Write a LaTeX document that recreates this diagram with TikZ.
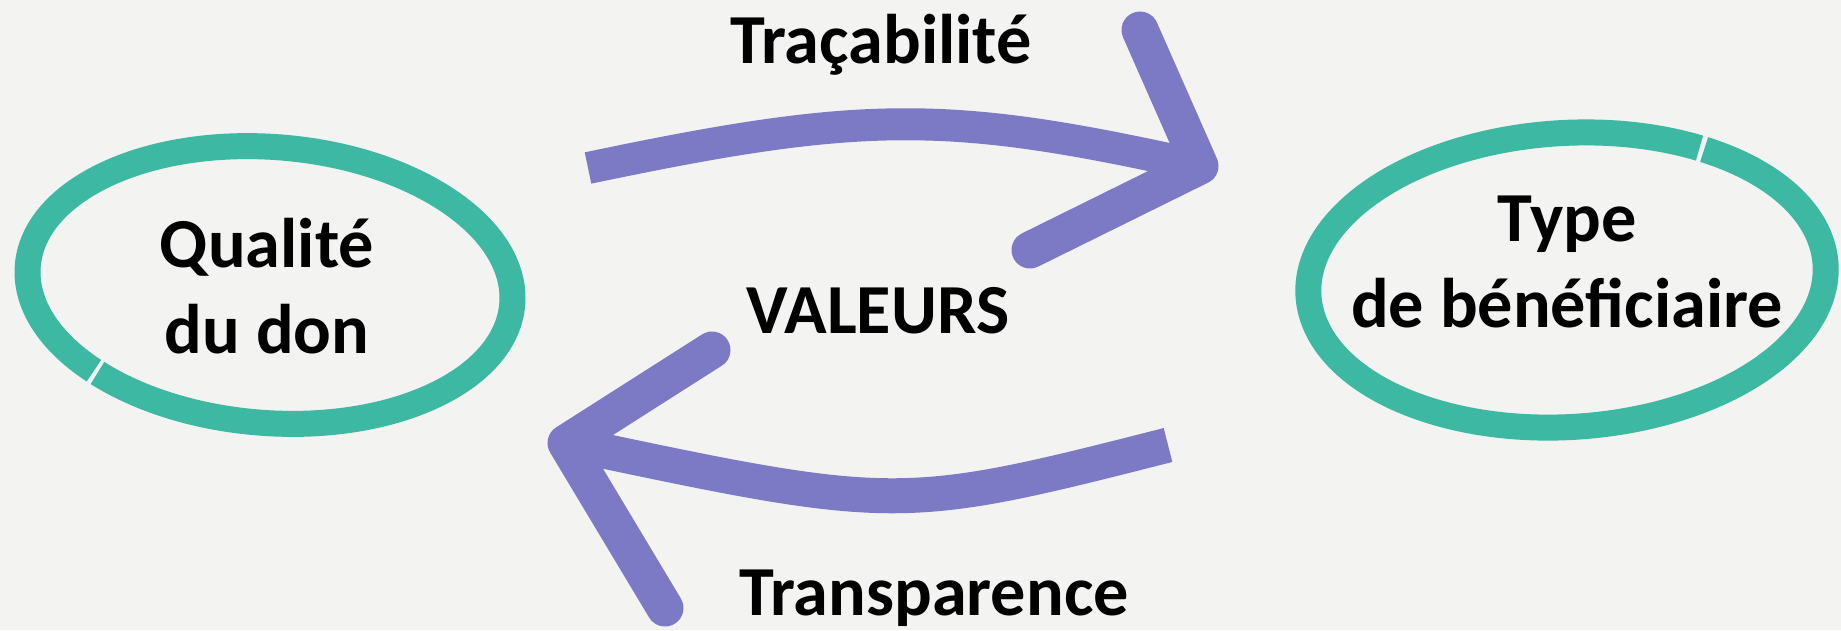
\documentclass[tikz,border=0pt]{standalone}
\usepackage{fontspec}
\setmainfont{Carlito}
\definecolor{paper}{RGB}{243,243,241}
\definecolor{ringteal}{RGB}{61,184,163}
\definecolor{brushpurple}{RGB}{124,122,196}

\begin{document}
\begin{tikzpicture}[x=0.02cm, y=-0.02cm,
  word/.style={font=\fontsize{40}{49}\selectfont\bfseries, inner sep=0pt, align=center},
  ring/.style={draw=ringteal, line width=0.52cm},
  shaft/.style={draw=brushpurple, line width=0.64cm, line cap=butt},
  barb/.style={draw=brushpurple, line width=0.74cm, line cap=round, line join=round}]
\useasboundingbox[fill=paper] (0,0) rectangle (1841,630); % paper
\draw[ring, rotate around={-4.5:(270,285)}] (270,285) ++(134:243 and 138) arc[start angle=134, end angle=492.8, x radius=243, y radius=138]; % left ring
\draw[ring, rotate around={3.5:(1567,280)}] (1567,280) ++(304:259 and 147) arc[start angle=304, end angle=662.8, x radius=259, y radius=147]; % right ring
\node[word] (qualite) at (267,286) {Qualité\\du don}; % left label
\node[word] (type) at (1567,262) {Type\\de bénéficiaire}; % right label
\node[word, anchor=base] (valeurs) at (878,333) {VALEURS}; % middle
\node[word, anchor=base] (tracabilite) at (881,63) {Traçabilité}; % top label
\node[word, anchor=base] (transparence) at (934,615) {Transparence}; % bottom label
\coordinate (topTail) at (588,168);
\coordinate (topTip) at (1200,166);
\coordinate (topBarbA) at (1140,30);
\coordinate (topBarbB) at (1030,250);
\coordinate (lowTail) at (1168,445);
\coordinate (lowTip) at (566,443);
\coordinate (lowBarbA) at (712,350);
\coordinate (lowBarbB) at (665,608);
\draw[shaft] (topTail) .. controls (864,110) and (949,110) .. (topTip); % upper arrow
\draw[barb] (topBarbA) -- (topTip) -- (topBarbB); % upper head
\draw[shaft, line width=0.7cm] (lowTail) .. controls (901,513) and (896,513) .. (lowTip); % lower arrow
\draw[barb] (lowBarbA) -- (lowTip) -- (lowBarbB); % lower head
\end{tikzpicture}
\end{document}
